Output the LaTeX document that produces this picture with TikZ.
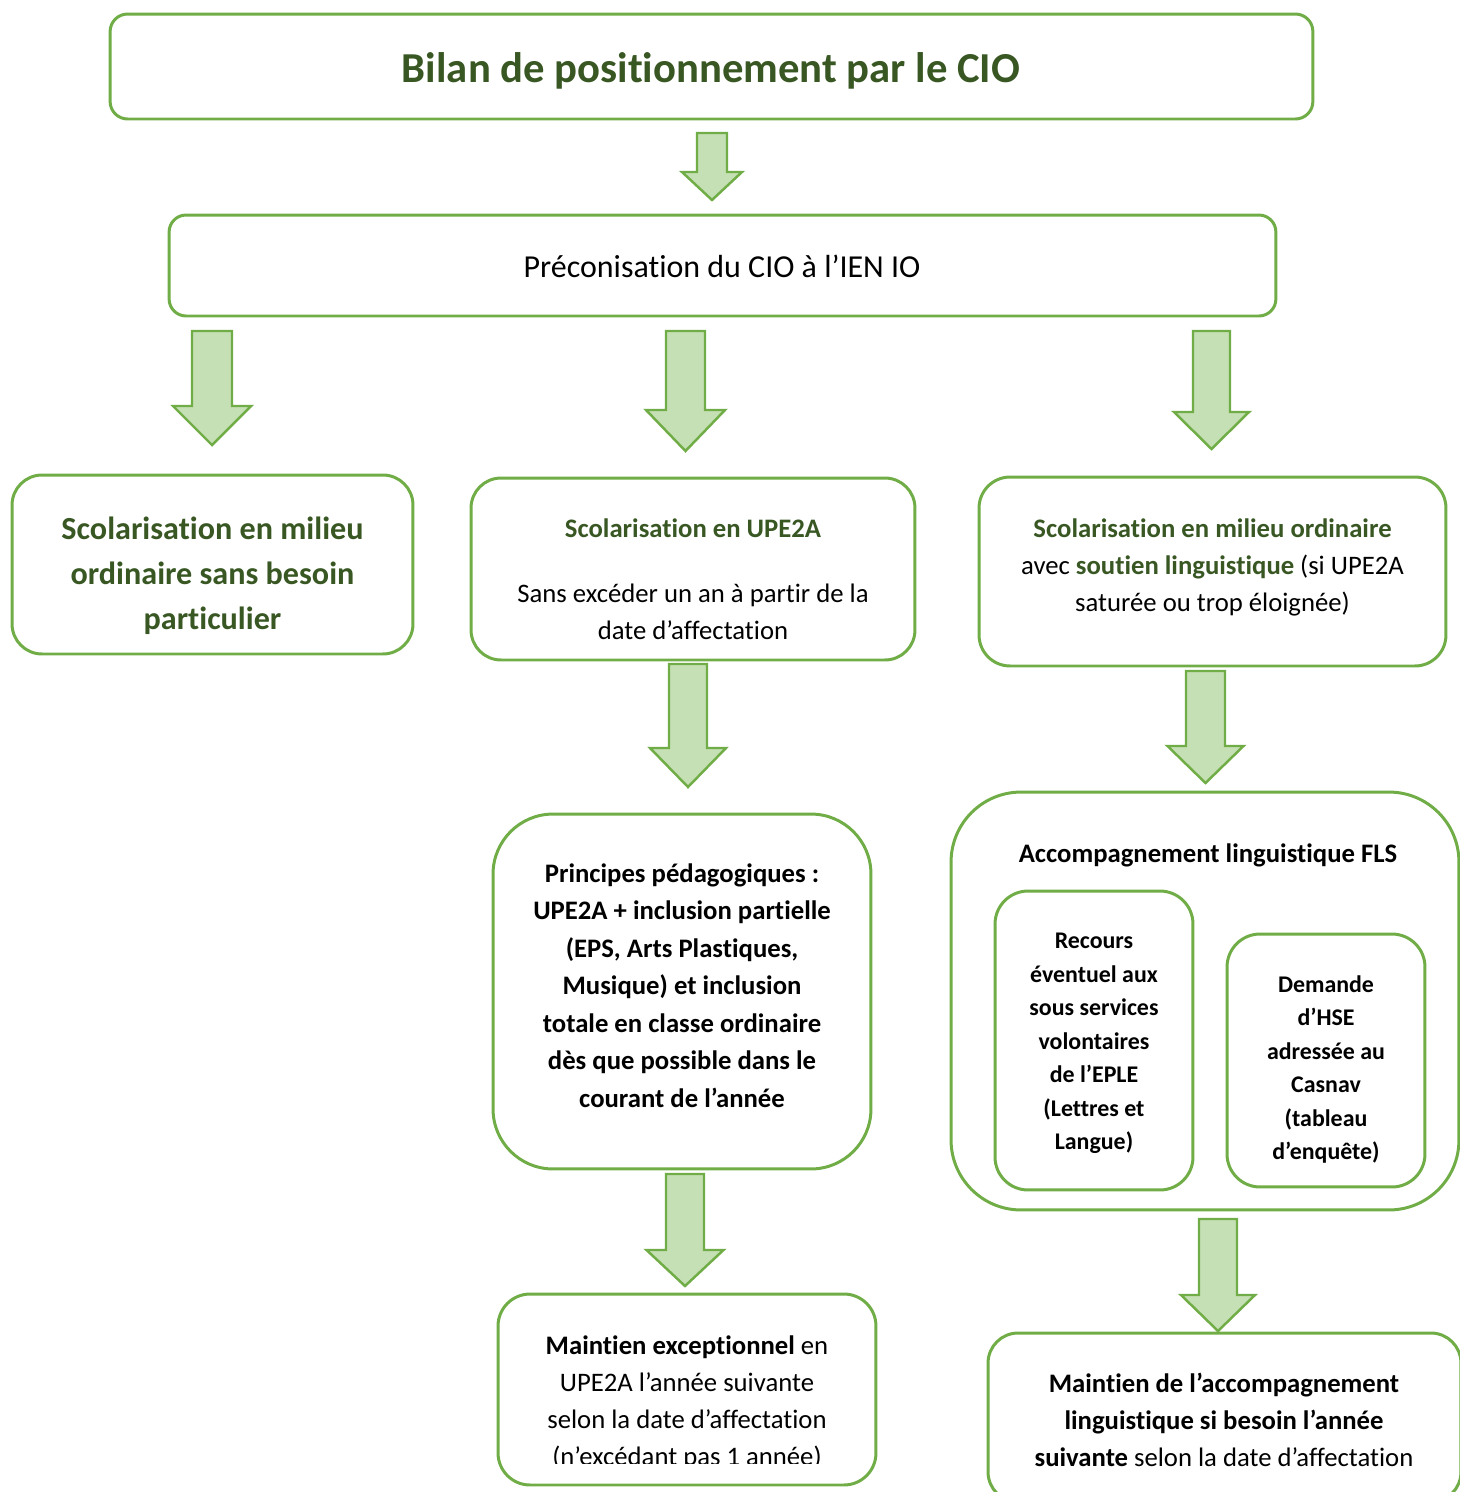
\documentclass[tikz,border=0pt]{standalone}
\usepackage{fontspec}
\setmainfont{Carlito}[Ligatures=NoCommon]
\usetikzlibrary{positioning}

\definecolor{vert}{HTML}{70AD47}
\definecolor{vertclair}{HTML}{C5E0B4}
\definecolor{vertfonce}{HTML}{385723}

\newcommand{\policeTitre}{\fontsize{24.3}{29}\selectfont\bfseries\color{vertfonce}}
\newcommand{\policePreco}{\fontsize{18.2}{22}\selectfont}
\newcommand{\policeGrande}{\fontsize{18.3}{25.5}\selectfont\bfseries\color{vertfonce}}
\newcommand{\policeTexte}{\fontsize{15.2}{21}\selectfont}
\newcommand{\policeGras}{\fontsize{15.2}{21.3}\selectfont\bfseries}
\newcommand{\policePetite}{\fontsize{13.6}{19.1}\selectfont\bfseries}
\newcommand{\vf}[1]{\textbf{\color{vertfonce}#1}}

\tikzset{
  boite/.style={draw=vert, line width=1.7pt, inner sep=0pt},
  texte/.style={align=center, inner sep=0pt},
  fleche/.style={draw=vert, fill=vertclair, line width=1.4pt, line join=miter},
}

% fleche pleine vers le bas : centre, haut, col, pointe, demi-tige, demi-tete
\newcommand{\flecheBas}[6]{%
  \draw[fleche] (#1-#5,#2) -- (#1+#5,#2) -- (#1+#5,#3) -- (#1+#6,#3)
    -- (#1,#4) -- (#1-#6,#3) -- (#1-#5,#3) -- cycle;}

\begin{document}
\begin{tikzpicture}[x=0.02cm, y=-0.02cm]
\useasboundingbox (0,0) rectangle (1460,1492);
\clip (0,0) rectangle (1460,1492);

% niveau 1
\node[boite, rounded corners=0.35cm, minimum width=24.06cm, minimum height=2.1cm] (bilan) at (711.5,66.5) {};
\node[texte, font=\policeTitre] (bilantxt) at (711,71) {Bilan de positionnement par le CIO};
\flecheBas{712}{133}{172}{200}{15}{30}

% niveau 2
\node[boite, rounded corners=0.34cm, minimum width=22.14cm, minimum height=2.02cm] (preco) at (722.5,265.5) {};
\node[texte, font=\policePreco] (precotxt) at (722,266) {Préconisation du CIO à l’IEN IO};
\flecheBas{212}{331}{406}{445}{20}{39}
\flecheBas{685.5}{331}{410}{451}{19.5}{39.5}
\flecheBas{1211.5}{331}{412}{449}{18.5}{37.5}

% niveau 3
\node[boite, rounded corners=0.6cm, minimum width=8.02cm, minimum height=3.58cm] (ordinaire) at (212.5,564.5) {};
\node[texte, font=\policeGrande] (ordinairetxt) at (212.5,575.5) {Scolarisation en milieu\\ordinaire sans besoin\\particulier};
\node[boite, rounded corners=0.6cm, minimum width=8.88cm, minimum height=3.64cm] (upe) at (693,569) {};
\node[texte, font=\policeTexte] (upetxt) at (693,579) {\vf{Scolarisation en UPE2A}\\[16pt]Sans excéder un an à partir de la\\date d’affectation};
\node[boite, rounded corners=0.62cm, minimum width=9.34cm, minimum height=3.78cm] (soutien) at (1212.5,571.5) {};
\node[texte, font=\policeTexte] (soutientxt) at (1212.5,567.5) {\vf{Scolarisation en milieu ordinaire}\\avec \vf{soutien linguistique} (si UPE2A\\saturée ou trop éloignée)};
\flecheBas{688}{664}{748}{787}{19}{38}
\flecheBas{1205.5}{671}{746}{783}{19.5}{38}

% niveau 4
\node[boite, rounded corners=1.2cm, minimum width=7.56cm, minimum height=7.1cm] (principes) at (682,991.5) {};
\node[texte, font=\policeGras] (principestxt) at (682,985.5) {Principes pédagogiques :\\UPE2A + inclusion partielle\\(EPS, Arts Plastiques,\\Musique) et inclusion\\totale en classe ordinaire\\dès que possible dans le\\courant de l’année};
\node[boite, rounded corners=1.4cm, minimum width=10.16cm, minimum height=8.36cm] (fls) at (1205,1001) {};
\node[texte, font=\policeGras] (flstxt) at (1208,855) {Accompagnement linguistique FLS};
\node[boite, rounded corners=0.66cm, minimum width=3.96cm, minimum height=5.98cm] (recours) at (1094,1040.5) {};
\node[texte, font=\policePetite] (recourstxt) at (1094,1043.5) {Recours\\éventuel aux\\sous services\\volontaires\\de l’EPLE\\(Lettres et\\Langue)};
\node[boite, rounded corners=0.66cm, minimum width=3.96cm, minimum height=5.06cm] (hse) at (1326,1060.5) {};
\node[texte, font=\policePetite] (hsetxt) at (1326,1069.5) {Demande\\d’HSE\\adressée au\\Casnav\\(tableau\\d’enquête)};
\flecheBas{685}{1174}{1250}{1286}{19}{38.5}
\flecheBas{1218}{1219}{1295}{1331}{19}{37}

% niveau 5
\node[boite, rounded corners=0.64cm, minimum width=7.56cm, minimum height=3.82cm] (maintien) at (687,1389.5) {};
\begin{scope}
  \clip (480,1300) rectangle (900,1463);
  \node[texte, font=\policeTexte] (maintientxt) at (687,1403) {\textbf{Maintien exceptionnel} en\\UPE2A l’année suivante\\selon la date d’affectation\\(n’excédant pas 1 année)};
\end{scope}
\node[boite, rounded corners=0.6cm, minimum width=9.46cm, minimum height=3.38cm] (suite) at (1224.5,1417.5) {};
\node[texte, font=\policeTexte] (suitetxt) at (1224,1420) {\textbf{Maintien de l’accompagnement}\\\textbf{linguistique si besoin l’année}\\\textbf{suivante} selon la date d’affectation};
\end{tikzpicture}
\end{document}
